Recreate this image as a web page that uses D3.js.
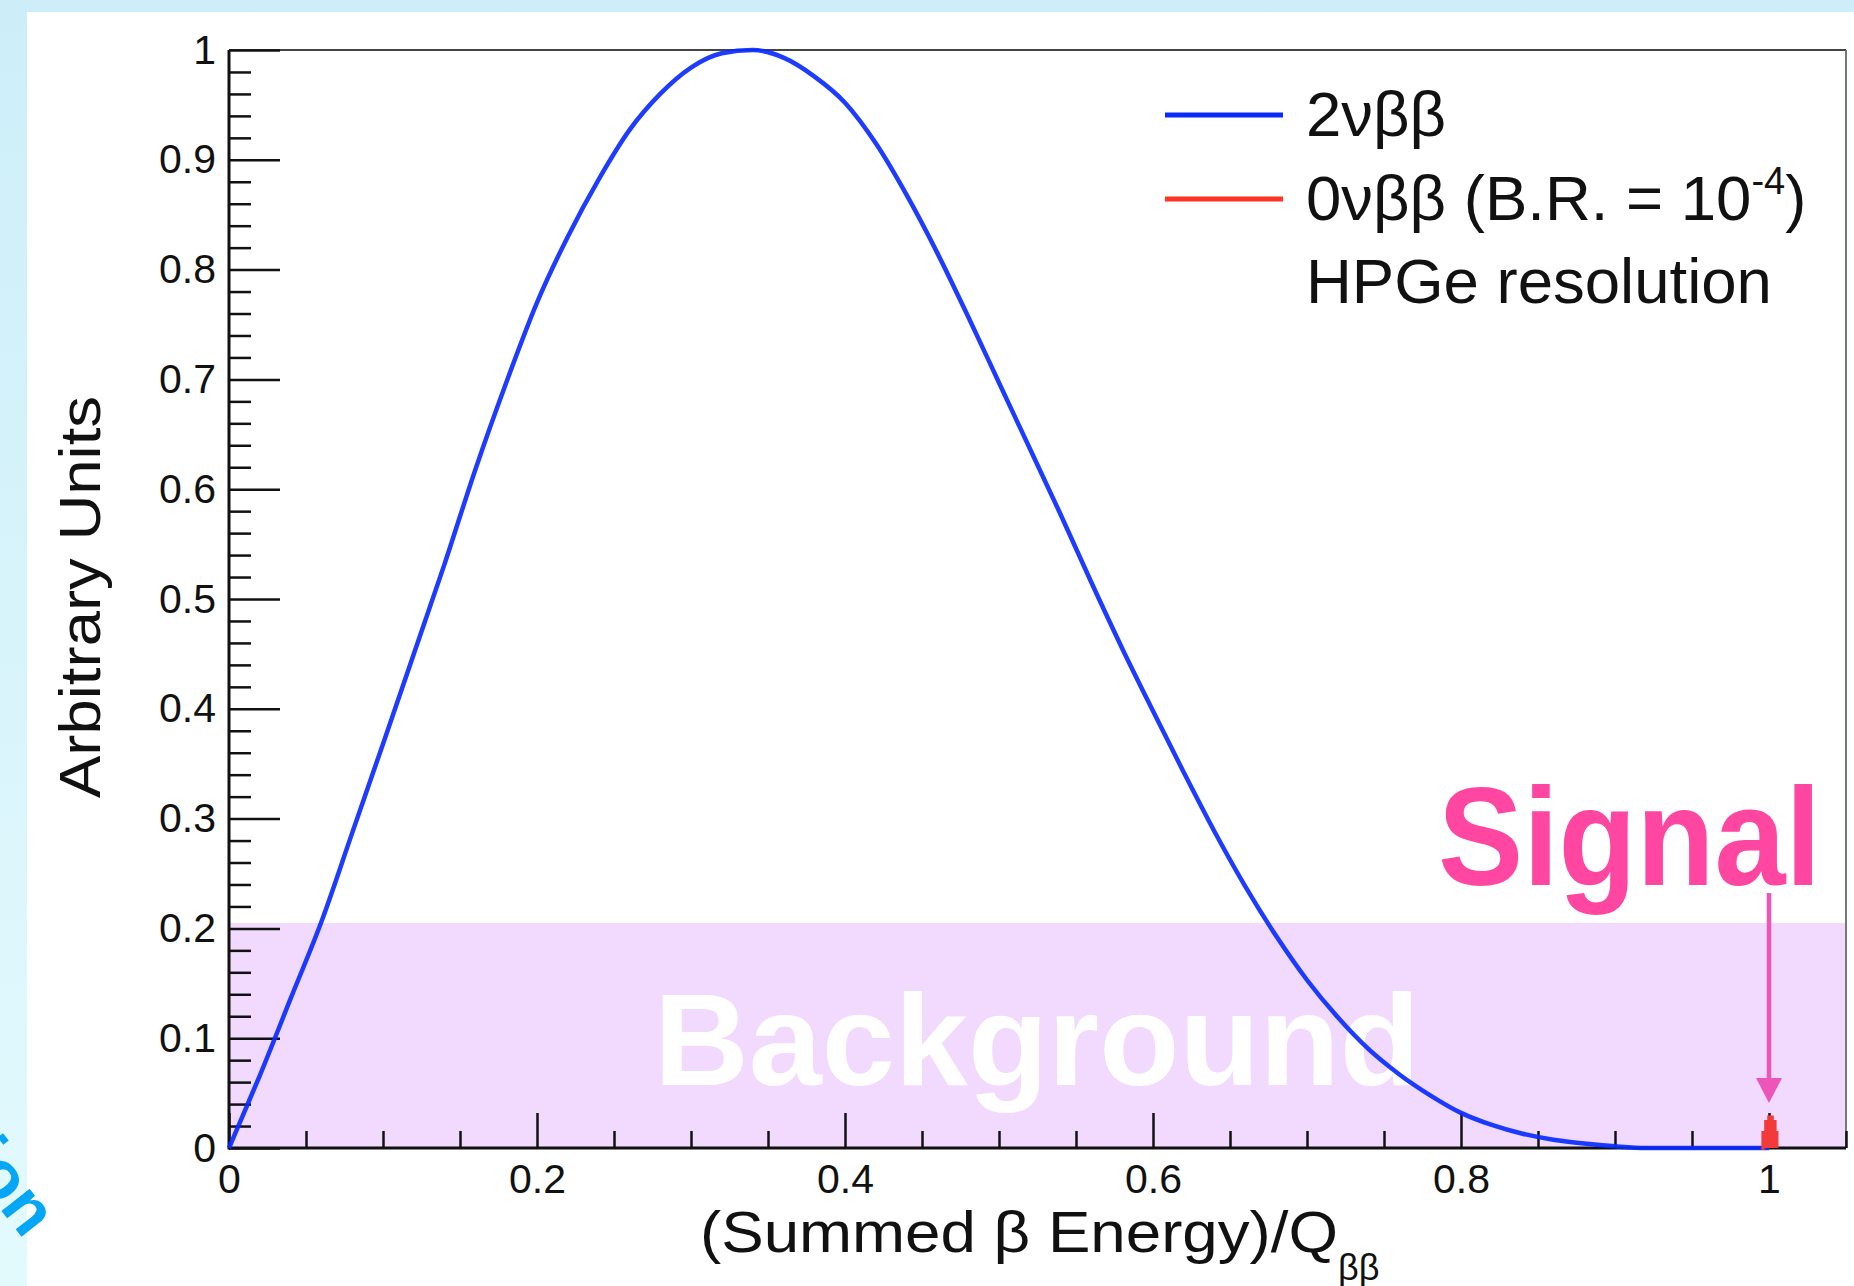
<!DOCTYPE html>
<html><head><meta charset="utf-8">
<script src="https://cdn.jsdelivr.net/npm/d3@7"></script>
<style>html,body{margin:0;padding:0;background:#fff;} svg{display:block;}</style>
</head><body>
<svg id="chart" width="1854" height="1286"></svg>
<script>
// ---- data ----
const twoNuX = [0, 0.01, 0.02, 0.04, 0.06, 0.08, 0.10, 0.12, 0.14, 0.16, 0.18, 0.20, 0.22, 0.24, 0.26, 0.28, 0.30, 0.32, 0.34, 0.36, 0.38, 0.40, 0.42, 0.44, 0.46, 0.48, 0.50, 0.52, 0.54, 0.56, 0.58, 0.60, 0.62, 0.64, 0.66, 0.68, 0.70, 0.72, 0.74, 0.76, 0.78, 0.80, 0.82, 0.84, 0.86, 0.88, 0.90, 0.92, 0.96, 1.00];
const twoNuY = [0, 0.033, 0.066, 0.136, 0.206, 0.287, 0.368, 0.45, 0.532, 0.618, 0.697, 0.77, 0.83, 0.882, 0.927, 0.96, 0.984, 0.997, 1.0, 0.993, 0.976, 0.952, 0.915, 0.868, 0.815, 0.757, 0.697, 0.637, 0.577, 0.515, 0.455, 0.398, 0.342, 0.288, 0.238, 0.193, 0.153, 0.119, 0.090, 0.067, 0.048, 0.032, 0.021, 0.013, 0.0075, 0.004, 0.0015, 0, 0, 0];
const zeroNuX = [0.995, 0.9962, 0.998, 1.0, 1.002, 1.0038, 1.005];
const zeroNuY = [0, 0.014, 0.024, 0.028, 0.024, 0.014, 0];
const xTickValues = [0, 0.2, 0.4, 0.6, 0.8, 1];
const xTickLabels = ["0", "0.2", "0.4", "0.6", "0.8", "1"];
const yTickValues = [0, 0.1, 0.2, 0.3, 0.4, 0.5, 0.6, 0.7, 0.8, 0.9, 1];
const yTickLabels = ["0", "0.1", "0.2", "0.3", "0.4", "0.5", "0.6", "0.7", "0.8", "0.9", "1"];
const legendLabels = ["2νββ", "0νββ (B.R. = 10", "HPGe resolution"];
const legendColors = ["#0a2bff", "#ff3322", null];
const backgroundLevel = 0.205;
const xMax = 1.05;

// ---- drawing ----
const FONT = "'Liberation Sans', Arial, Helvetica, sans-serif";
const svg = d3.select("#chart");
const defs = svg.append("defs");
const grad = defs.append("linearGradient").attr("id", "slidebg").attr("x1", 0).attr("y1", 0).attr("x2", 0).attr("y2", 1);
grad.append("stop").attr("offset", "0%").attr("stop-color", "#cdeef9");
grad.append("stop").attr("offset", "100%").attr("stop-color", "#e3fafd");
svg.append("rect").attr("width", 1854).attr("height", 1286).attr("fill", "url(#slidebg)");
svg.append("rect").attr("x", 27).attr("y", 12).attr("width", 1854 - 27).attr("height", 1286 - 12).attr("fill", "#ffffff");

const x = d3.scaleLinear().domain([0, xMax]).range([229, 229 + 1540 * xMax]);
const y = d3.scaleLinear().domain([0, 1]).range([1148, 50]);

// rotated slide text fragment at lower-left
svg.append("text")
  .attr("transform", "translate(24,1240) rotate(52)")
  .attr("text-anchor", "end")
  .attr("font-family", FONT).attr("font-weight", "bold").attr("font-size", 68)
  .attr("fill", "#05a6f5")
  .text("Energy resolution");

// background band
svg.append("rect")
  .attr("x", x(0)).attr("y", y(backgroundLevel))
  .attr("width", x(xMax) - x(0)).attr("height", y(0) - y(backgroundLevel))
  .attr("fill", "#f1dafd");

svg.append("text")
  .attr("x", 654).attr("y", 1085)
  .attr("font-family", FONT).attr("font-weight", "bold").attr("font-size", 130)
  .attr("fill", "#ffffff")
  .attr("textLength", 766).attr("lengthAdjust", "spacingAndGlyphs")
  .text("Background");

// frame top/right
svg.append("line").attr("x1", x(0)).attr("x2", x(xMax)).attr("y1", y(1)).attr("y2", y(1)).attr("stroke", "#444").attr("stroke-width", 2);
svg.append("line").attr("x1", x(xMax)).attr("x2", x(xMax)).attr("y1", y(1)).attr("y2", y(0)).attr("stroke", "#777").attr("stroke-width", 2);

// axes
function styleAxis(g) {
  g.select(".domain").remove();
  g.selectAll(".tick line").attr("stroke", "#111").attr("stroke-width", 2.5);
  g.selectAll(".tick text").attr("font-family", FONT).attr("font-size", 41).attr("fill", "#111");
}
const yMinor = d3.range(0, 51).map(i => i * 0.02).filter(v => Math.abs(v * 10 - Math.round(v * 10)) > 1e-6);
svg.append("g").attr("transform", `translate(${x(0)},0)`)
  .call(d3.axisLeft(y).tickValues(yMinor).tickFormat("").tickSize(-22)).call(styleAxis);
svg.append("g").attr("transform", `translate(${x(0)},0)`)
  .call(d3.axisLeft(y).tickValues(yTickValues).tickFormat((d, i) => yTickLabels[i]).tickSize(-51).tickPadding(13))
  .call(styleAxis);
const xMinor = d3.range(0, 22).map(i => i * 0.05).filter(v => v <= xMax + 1e-9 && Math.abs(v * 5 - Math.round(v * 5)) > 1e-6);
svg.append("g").attr("transform", `translate(0,${y(0)})`)
  .call(d3.axisBottom(x).tickValues(xMinor).tickFormat("").tickSize(-17)).call(styleAxis);
svg.append("g").attr("transform", `translate(0,${y(0)})`)
  .call(d3.axisBottom(x).tickValues(xTickValues).tickFormat((d, i) => xTickLabels[i]).tickSize(-35).tickPadding(16))
  .call(styleAxis);
// axis lines
svg.append("line").attr("x1", x(0)).attr("x2", x(0)).attr("y1", y(1)).attr("y2", y(0) + 1.5).attr("stroke", "#111").attr("stroke-width", 3);
svg.append("line").attr("x1", x(0)).attr("x2", x(xMax)).attr("y1", y(0)).attr("y2", y(0)).attr("stroke", "#111").attr("stroke-width", 3);

// curves (drawn above the axes, as in the reference)
const line = d3.line().x(d => x(d[0])).y(d => y(d[1])).curve(d3.curveMonotoneX);
svg.append("path").datum(twoNuX.map((v, i) => [v, twoNuY[i]]))
  .attr("d", line).attr("fill", "none").attr("stroke", "#0a2bff").attr("stroke-width", 4.5)
  .attr("stroke-opacity", 0.92).attr("stroke-linejoin", "round");
const redData = zeroNuX.map((v, i) => [v, zeroNuY[i]]);
const area = d3.area().x(d => x(d[0])).y0(y(0)).y1(d => y(d[1])).curve(d3.curveStepAfter);
svg.append("path").datum(redData).attr("d", area).attr("fill", "#f23a3a");
svg.append("path").datum(redData).attr("d", d3.line().x(d => x(d[0])).y(d => y(d[1])).curve(d3.curveStepAfter))
  .attr("fill", "none").attr("stroke", "#f23a3a").attr("stroke-width", 3.5);

// axis titles
svg.append("text")
  .attr("transform", "translate(100,597) rotate(-90)")
  .attr("text-anchor", "middle")
  .attr("font-family", FONT).attr("font-size", 58).attr("fill", "#111")
  .attr("textLength", 402).attr("lengthAdjust", "spacingAndGlyphs")
  .text("Arbitrary Units");
const xt = svg.append("text").attr("x", 700).attr("y", 1252)
  .attr("font-family", FONT).attr("font-size", 58).attr("fill", "#111");
xt.append("tspan").attr("textLength", 638).attr("lengthAdjust", "spacingAndGlyphs").text("(Summed β Energy)/Q");
xt.append("tspan").attr("font-size", 36).attr("dy", 28).text("ββ");

// legend
const legY = [115, 199, 282];
legendLabels.forEach((lab, i) => {
  if (legendColors[i]) {
    svg.append("line").attr("x1", 1165).attr("x2", 1283).attr("y1", legY[i]).attr("y2", legY[i])
      .attr("stroke", legendColors[i]).attr("stroke-width", 5);
  }
  const t = svg.append("text").attr("x", 1306).attr("y", legY[i] + 21)
    .attr("font-family", FONT).attr("font-size", 63.5).attr("fill", "#111").text(lab);
  if (i === 1) {
    t.append("tspan").attr("font-size", 38).attr("dy", -26).text("-4");
    t.append("tspan").attr("dy", 26).text(")");
  }
});

// Signal annotation
svg.append("text")
  .attr("x", 1438).attr("y", 885)
  .attr("font-family", FONT).attr("font-weight", "bold").attr("font-size", 140)
  .attr("fill", "#ff46a0")
  .attr("textLength", 383).attr("lengthAdjust", "spacingAndGlyphs")
  .text("Signal");
const ax = x(1);
svg.append("line").attr("x1", ax).attr("x2", ax).attr("y1", 893).attr("y2", 1082)
  .attr("stroke", "#ee55b8").attr("stroke-width", 4.5);
svg.append("path")
  .attr("d", `M${ax - 13},1078 L${ax + 13},1078 L${ax},1103 Z`)
  .attr("fill", "#ee55b8");
</script>
</body></html>
